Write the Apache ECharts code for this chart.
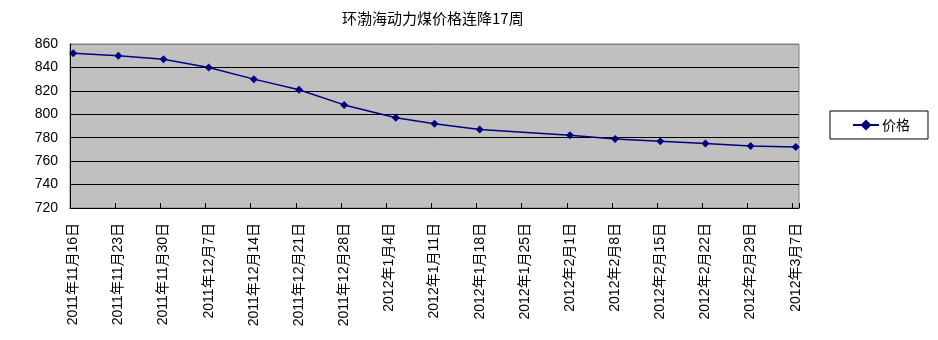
<!DOCTYPE html>
<html>
<head>
<meta charset="utf-8">
<script src="https://cdn.jsdelivr.net/npm/echarts@6/dist/echarts.min.js"></script>
<style>
html,body{margin:0;padding:0;background:#fff;}
#chart{width:938px;height:340px;}
</style>
</head>
<body>
<div id="chart"></div>
<script>
const chartTitle = '环渤海动力煤价格连降17周';
const seriesName = '价格';
const tickLabels = ['2011年11月16日','2011年11月23日','2011年11月30日','2011年12月7日','2011年12月14日','2011年12月21日','2011年12月28日','2012年1月4日','2012年1月11日','2012年1月18日','2012年1月25日','2012年2月1日','2012年2月8日','2012年2月15日','2012年2月22日','2012年2月29日','2012年3月7日'];
const priceDates = ['2011-11-16','2011-11-23','2011-11-30','2011-12-07','2011-12-14','2011-12-21','2011-12-28','2012-01-05','2012-01-11','2012-01-18','2012-02-01','2012-02-08','2012-02-15','2012-02-22','2012-02-29','2012-03-07'];
const prices = [852,850,847,840,830,821,808,797,792,787,782,779,777,775,773,772];
const yTicks = {min:720, max:860, step:20};
const axisStart = '2011-11-16';
const axisEnd = '2012-03-07';

function toUTC(s){const p=s.split('-').map(Number);return Date.UTC(p[0],p[1]-1,p[2]);}
function fmt(t){const d=new Date(t);return d.getUTCFullYear()+'年'+(d.getUTCMonth()+1)+'月'+d.getUTCDate()+'日';}
const DAY = 86400000;
const days = [];
for(let t=toUTC(axisStart); t<=toUTC(axisEnd); t+=DAY){days.push(fmt(t));}
const seriesData = priceDates.map((d,i)=>[Math.round((toUTC(d)-toUTC(axisStart))/DAY), prices[i]]);

const latin = 'Liberation Sans, Arial, Noto Sans CJK SC, sans-serif';
const chart = echarts.init(document.getElementById('chart'), null, {renderer:'canvas'});
chart.setOption({
  animation:false,
  backgroundColor:'#ffffff',
  title:{text:chartTitle, left:342, top:11, padding:0,
    textStyle:{fontSize:15, fontWeight:'normal', color:'#000', fontFamily:'Noto Sans CJK SC, sans-serif'}},
  legend:{show:true, left:830, top:111, orient:'vertical',
    padding:[7,18,7,22], itemWidth:26, itemHeight:14, itemGap:5,
    borderColor:'#000', borderWidth:1, backgroundColor:'#fff',
    textStyle:{fontSize:14, color:'#000', fontFamily:'Noto Sans CJK SC, sans-serif', padding:[0,0,0,-2]},
    data:[seriesName]},
  grid:{left:70, right:139, top:44, bottom:132, show:true, backgroundColor:'#c0c0c0', borderColor:'#808080', borderWidth:1},
  xAxis:{type:'category', data:days, boundaryGap:true,
    axisLine:{show:true, lineStyle:{color:'#000', width:1}},
    axisTick:{show:true, inside:true, length:5, interval:6, lineStyle:{color:'#000'}},
    axisLabel:{interval:6, rotate:90, margin:15, fontSize:14, color:'#000', fontFamily:latin,
      formatter:function(v){return tickLabels.indexOf(v)>=0?v:'';}},
    splitLine:{show:false}},
  yAxis:{type:'value', min:yTicks.min, max:yTicks.max, interval:yTicks.step,
    axisLine:{show:true, lineStyle:{color:'#000', width:1}},
    axisTick:{show:false},
    axisLabel:{fontSize:14, color:'#000', margin:12, fontFamily:latin},
    splitLine:{show:true, lineStyle:{color:['#000','#000','#000','#000','#000','#000','#000','#808080'], width:1}}},
  series:[{name:seriesName, type:'line', data:seriesData,
    symbol:'diamond', symbolSize:8, showSymbol:true, showAllSymbol:true,
    lineStyle:{color:'#000080', width:1.5},
    itemStyle:{color:'#000080'}}]
});
</script>
</body>
</html>
